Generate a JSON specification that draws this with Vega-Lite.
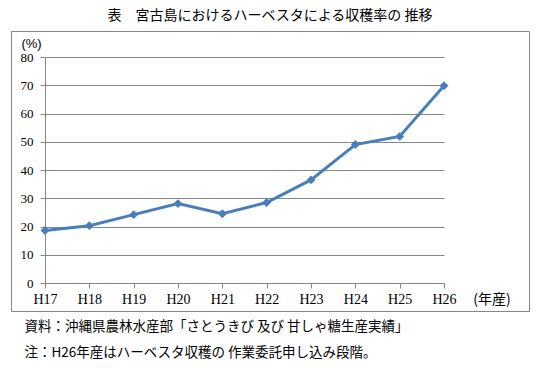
{
  "$schema": "https://vega.github.io/schema/vega-lite/v6.json",
  "width": 518,
  "height": 280,
  "autosize": {"type": "none"},
  "padding": {"left": 11, "top": 31, "right": 13, "bottom": 57},
  "background": "white",
  "title": {
    "text": "表　宮古島におけるハーベスタによる収穫率の 推移",
    "font": "Noto Sans CJK JP",
    "fontSize": 14,
    "fontWeight": "normal",
    "color": "#000000",
    "anchor": "middle",
    "offset": 8
  },
  "config": {
    "view": {"stroke": "#868686", "strokeWidth": 1}
  },
  "data": {
    "values": [
      {"year": "H17", "rate": 18.6, "label": ""},
      {"year": "H18", "rate": 20.3, "label": ""},
      {"year": "H19", "rate": 24.2, "label": ""},
      {"year": "H20", "rate": 28.1, "label": ""},
      {"year": "H21", "rate": 24.5, "label": ""},
      {"year": "H22", "rate": 28.5, "label": ""},
      {"year": "H23", "rate": 36.5, "label": ""},
      {"year": "H24", "rate": 49.0, "label": ""},
      {"year": "H25", "rate": 51.9, "label": ""},
      {"year": "H26", "rate": 69.8, "label": "(年産)"}
    ]
  },
  "encoding": {
    "x": {
      "field": "year",
      "type": "ordinal",
      "sort": null,
      "scale": {"type": "point", "range": [34, 433], "padding": 0},
      "axis": {
        "title": ["資料：沖縄県農林水産部「さとうきび 及び 甘しゃ糖生産実績」", "注：H26年産はハーベスタ収穫の 作業委託申し込み段階。"],
        "titleFont": "Noto Sans CJK JP",
        "titleFontSize": 13.5,
        "titleFontWeight": "normal",
        "titleColor": "#000000",
        "titleX": 13,
        "titleY": 36,
        "titleAlign": "left",
        "titleBaseline": "top",
        "titleLineHeight": 26,
        "offset": -28,
        "grid": false,
        "domainColor": "#868686",
        "tickColor": "#868686",
        "tickSize": 5,
        "labelFont": "Liberation Serif",
        "labelFontSize": 14,
        "labelColor": "#000000",
        "labelAngle": 0,
        "labelPadding": 4
      }
    }
  },
  "layer": [
    {
      "mark": {
        "type": "line",
        "color": "#4A7EBB",
        "strokeWidth": 3,
        "point": {"shape": "diamond", "size": 80, "filled": true, "color": "#4A7EBB", "opacity": 1}
      },
      "encoding": {
        "y": {
          "field": "rate",
          "type": "quantitative",
          "scale": {"domain": [0, 80], "range": [252, 26], "nice": false},
          "axis": {
            "title": "(%)",
            "titleAngle": 0,
            "titleX": -14,
            "titleY": 12,
            "titleAlign": "center",
            "titleBaseline": "middle",
            "titleFont": "Liberation Sans",
            "titleFontSize": 13,
            "titleFontWeight": "normal",
            "titleColor": "#000000",
            "offset": -34,
            "values": [0, 10, 20, 30, 40, 50, 60, 70, 80],
            "tickCount": 20,
            "labelOverlap": false,
            "grid": true,
            "gridColor": "#868686",
            "gridWidth": 1,
            "domainColor": "#868686",
            "tickColor": "#868686",
            "tickSize": 5,
            "labelFont": "Liberation Serif",
            "labelFontSize": 13,
            "labelColor": "#000000",
            "labelPadding": 7
          }
        }
      }
    },
    {
      "mark": {
        "type": "text",
        "font": "Noto Sans CJK JP",
        "fontSize": 14,
        "color": "#000000",
        "align": "center",
        "baseline": "middle",
        "dx": 48,
        "dy": 17
      },
      "encoding": {
        "y": {"datum": 0, "type": "quantitative"},
        "text": {"field": "label"}
      }
    }
  ]
}
